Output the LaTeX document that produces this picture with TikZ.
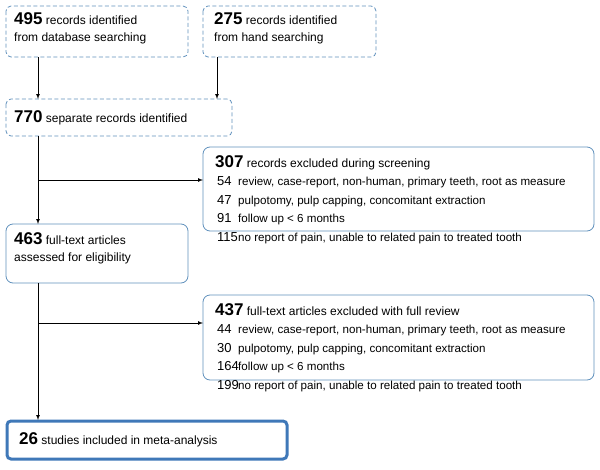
\documentclass[tikz,border=0pt]{standalone}
\usepackage{fontspec}
\setmainfont{Liberation Sans}
\definecolor{bc}{HTML}{5F90BC}
\definecolor{gb}{HTML}{3F78B8}
\tikzset{x=1pt,y=-1pt,
 dbox/.style={draw=bc,dash pattern=on 4pt off 2.5pt,rounded corners=5pt,line width=0.8pt},
 sbox/.style={draw=bc,rounded corners=7pt,line width=0.8pt},
 fbox/.style={draw=gb,rounded corners=4pt,line width=3pt},
 arr/.style={-latex,line width=0.7pt}}
\newcommand{\bn}[1]{{\fontsize{17}{19}\selectfont\bfseries #1}}
\newcommand{\itm}[2]{\makebox[21pt][l]{\fontsize{13}{14}\selectfont #1}{\fontsize{11.6}{14}\selectfont #2}}
\begin{document}
\begin{tikzpicture}
\useasboundingbox (0,0) rectangle (600,469);
\draw[dbox] (6,6) rectangle (188,57);
\draw[dbox] (203,6) rectangle (376,57);
\draw[dbox] (6,99) rectangle (232,136);
\draw[sbox] (203,147) rectangle (594,231);
\draw[sbox] (6,224) rectangle (188,283);
\draw[sbox] (203,295) rectangle (594,380);
\draw[fbox] (7,421) rectangle (287,459);
\node[anchor=north west,align=left,inner sep=0,font=\fontsize{12}{17}\selectfont] (a) at (14,12) {\bn{495} records identified\\from database searching};
\node[anchor=north west,align=left,inner sep=0,font=\fontsize{12}{17}\selectfont] (b) at (214,12) {\bn{275} records identified\\from hand searching};
\node[anchor=west,inner sep=0,font=\fontsize{12}{17}\selectfont] (c) at (14,118) {\bn{770} separate records identified};
\node[anchor=north west,align=left,inner sep=0,font=\fontsize{12}{17}\selectfont] (e) at (14,232) {\bn{463} full-text articles\\assessed for eligibility};
\node[anchor=west,inner sep=0,font=\fontsize{12}{17}\selectfont] (g) at (19,440) {\bn{26} studies included in meta-analysis};
\node[anchor=north west,align=left,inner sep=0,font=\fontsize{12}{18.5}\selectfont] (d) at (215,155) {\bn{307} records excluded during screening\\
\hspace*{2pt}\itm{54}{review, case-report, non-human, primary teeth, root as measure}\\
\hspace*{2pt}\itm{47}{pulpotomy, pulp capping, concomitant extraction}\\
\hspace*{2pt}\itm{91}{follow up < 6 months}\\
\hspace*{2pt}\itm{115}{no report of pain, unable to related pain to treated tooth}};
\node[anchor=north west,align=left,inner sep=0,font=\fontsize{12}{18.5}\selectfont] (f) at (215,303) {\bn{437} full-text articles excluded with full review\\
\hspace*{2pt}\itm{44}{review, case-report, non-human, primary teeth, root as measure}\\
\hspace*{2pt}\itm{30}{pulpotomy, pulp capping, concomitant extraction}\\
\hspace*{2pt}\itm{164}{follow up < 6 months}\\
\hspace*{2pt}\itm{199}{no report of pain, unable to related pain to treated tooth}};
\coordinate (c1) at (38,180);
\coordinate (e1) at (38,323);
\draw[arr] (38,57) -- (38,99);
\draw[arr] (217,57) -- (217,99);
\draw[arr] (38,136) -- (38,224);
\draw[arr] (c1) -- (203,180);
\draw[arr] (38,283) -- (38,420);
\draw[arr] (e1) -- (203,323);
\end{tikzpicture}
\end{document}
